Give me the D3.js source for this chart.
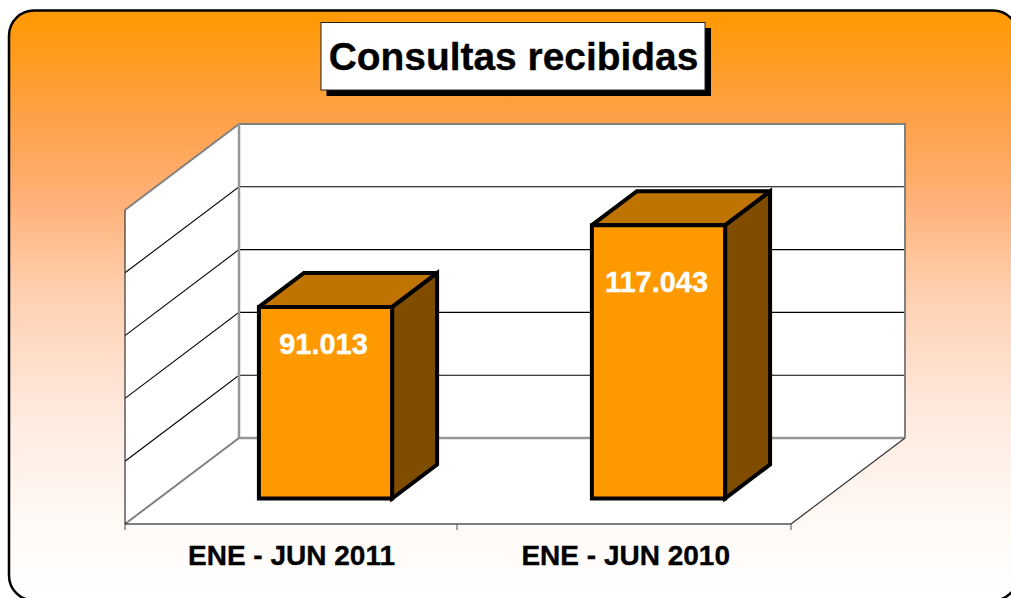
<!DOCTYPE html>
<html><head><meta charset="utf-8">
<script src="https://cdn.jsdelivr.net/npm/d3@7"></script>
<style>html,body{margin:0;padding:0;background:#fff;overflow:hidden}svg{display:block}text{font-family:"Liberation Sans",Arial,sans-serif;font-weight:700;stroke-width:.35px}</style>
</head><body><div id="chart"></div>
<script>
const categories = ["ENE - JUN 2011", "ENE - JUN 2010"];
const values = [91013, 117043];
const valueLabels = ["91.013", "117.043"];
const axisTicks = [30000, 50000, 70000, 90000, 110000, 130000];
const titleText = "Consultas recibidas";

const W = 1011, H = 598;
const svg = d3.select("#chart").append("svg").attr("width", W).attr("height", H);

// background gradient
const defs = svg.append("defs");
const grad = defs.append("linearGradient").attr("id", "bg").attr("x1", 0).attr("y1", 0).attr("x2", 0).attr("y2", 1);
[[0, "#FF9900"], [0.17, "#FFA044"], [0.33, "#FFB27A"], [0.47, "#FFCFAE"], [0.67, "#FFE8DC"], [0.87, "#FFFAF6"], [1, "#FFFFFF"]]
  .forEach(s => grad.append("stop").attr("offset", s[0]).attr("stop-color", s[1]));
svg.append("rect").attr("x", 9).attr("y", 10.5).attr("width", 1009).attr("height", 590).attr("rx", 25).attr("ry", 25)
  .attr("fill", "url(#bg)").attr("stroke", "#000").attr("stroke-width", 2.5);

// 3D frame
const x = d3.scaleBand().domain(categories).range([125, 791]).paddingInner(0.6).paddingOuter(0.3);
const y = d3.scaleLinear().domain([axisTicks[0], axisTicks[axisTicks.length - 1]]).range([524, 210]);
const DX = 114, DY = -86;           // full chart depth
const BDX = 45, BDY = -34;          // bar depth
const OX = 34, OY = -25.5;          // bar inset from the front of the floor
const x0 = x.range()[0], x1 = x.range()[1];
const yBase = y.range()[0], yTop = y.range()[1];
const line = d3.line();
const poly = pts => line(pts) + "Z";

const frame = svg.append("g");
frame.append("path").attr("fill", "#fff").attr("d", poly([[x0 + DX, yTop + DY], [x1 + DX, yTop + DY], [x1 + DX, yBase + DY], [x1, yBase], [x0, yBase], [x0, yTop]]));

// gridlines
axisTicks.slice(1, -1).forEach(t => {
  const g = y(t);
  frame.append("path").attr("fill", "none").attr("stroke", "#000").attr("stroke-width", 1.1)
    .attr("d", line([[x0, g], [x0 + DX, g + DY], [x1 + DX, g + DY]]));
});
const edge = (pts, c, w) => frame.append("path").attr("fill", "none").attr("stroke", c).attr("stroke-width", w).attr("d", line(pts));
edge([[x0, yTop], [x0 + DX, yTop + DY], [x1 + DX, yTop + DY], [x1 + DX, yBase + DY]], "#808080", 2);
edge([[x0 + DX, yTop + DY], [x0 + DX, yBase + DY]], "#969696", 2.5);
edge([[x0 + DX, yBase + DY], [x1 + DX, yBase + DY]], "#969696", 2.5);
edge([[x0, yBase], [x0 + DX, yBase + DY]], "#808080", 2);
edge([[x1, yBase], [x1 + DX, yBase + DY]], "#333", 1.2);
edge([[x0, yTop], [x0, yBase]], "#333", 1.2);
edge([[x0, yBase], [x1, yBase]], "#000", 1.2);
[x0, x0 + x.step() - 1, x1].forEach(t => edge([[t, yBase], [t, yBase + 6]], "#666", 1.2));

// bars
const bars = svg.append("g").selectAll("g").data(categories.map((c, i) => ({c, v: values[i], l: valueLabels[i]}))).join("g");
const faceStyle = s => s.attr("stroke", "#000").attr("stroke-width", 4).attr("stroke-linejoin", "miter").attr("stroke-miterlimit", 3);
bars.each(function(d) {
  const g = d3.select(this);
  const l = x(d.c) + OX, r = l + x.bandwidth(), t = y(d.v) + OY, b = yBase + OY;
  g.append("path").attr("fill", "#7F4C00").call(faceStyle).attr("d", poly([[r, t], [r + BDX, t + BDY], [r + BDX, b + BDY], [r, b]]));
  g.append("path").attr("fill", "#BF7300").call(faceStyle).attr("d", poly([[l, t], [l + BDX, t + BDY], [r + BDX, t + BDY], [r, t]]));
  g.append("path").attr("fill", "#FF9900").call(faceStyle).attr("d", poly([[l, t], [r, t], [r, b], [l, b]]));
  g.append("text").attr("x", (l + r) / 2 - 2).attr("y", t + (b - t) * 0.245).attr("text-anchor", "middle")
    .attr("font-size", 29).attr("fill", "#fff").attr("stroke", "#fff").text(d.l);
});

// category labels
svg.append("g").selectAll("text").data(categories).join("text")
  .attr("x", (d, i) => x(d) + x.bandwidth() / 2 + i * 1.2).attr("y", 565).attr("text-anchor", "middle")
  .attr("font-size", 28).attr("fill", "#000").attr("stroke", "#000").text(d => d);

// title
const tg = svg.append("g");
tg.append("rect").attr("x", 326.5).attr("y", 28).attr("width", 384.5).attr("height", 68).attr("fill", "#000");
tg.append("rect").attr("x", 321).attr("y", 22.5).attr("width", 384).attr("height", 67.5).attr("fill", "#fff").attr("stroke", "#222").attr("stroke-width", 1);
tg.append("text").attr("x", 513.5).attr("y", 70).attr("text-anchor", "middle").attr("font-size", 38.9).attr("fill", "#000").attr("stroke", "#000").text(titleText);
</script></body></html>
